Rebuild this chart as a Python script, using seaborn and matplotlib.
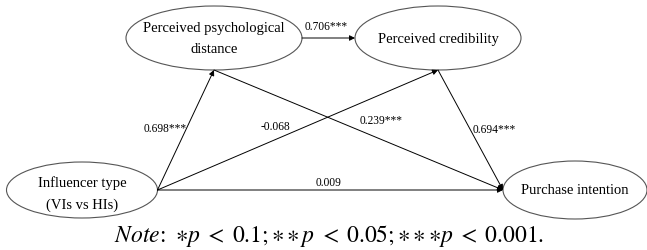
import matplotlib.pyplot as plt
import seaborn as sns
from matplotlib.patches import Ellipse

# path model data
nodes = ["Perceived psychological\ndistance", "Perceived credibility",
         "Influencer type\n(VIs vs HIs)", "Purchase intention"]
edge_src = [2, 2, 2, 0, 1, 0]
edge_dst = [0, 1, 3, 3, 3, 1]
coefs = ["0.698***", "-0.068", "0.009", "0.239***", "0.694***", "0.706***"]
note = (r"$\mathit{Note\!:}\ {\ast}p\;<\;0.1;{\ast}\,{\ast}\,p\;<\;0.05;"
        r"{\ast}\,{\ast}\,{\ast}p\;<\;0.001.$")

# layout (pixel coords, y down)
centers = [(214, 38), (438, 38), (82, 190), (575, 190)]
sizes = [(176, 64), (166, 64), (151, 56), (144, 58)]
src_anchor = ["right", "right", "right", "bottom", "bottom", "right"]
dst_anchor = ["bottom", "bottom", "left", "left", "left", "left"]
label_pos = [(165, 129), (275, 127), (329, 183), (381, 121), (494, 130), (326, 27)]
text_dy = [1, 1, 4, 1]


def anchor(i, side):
    cx, cy = centers[i]
    w, h = sizes[i]
    if side == "right":
        return (cx + w / 2, cy)
    if side == "left":
        return (cx - w / 2, cy)
    return (cx, cy + h / 2)


sns.set_theme(style="white")
plt.rcParams["font.family"] = ["Liberation Serif", "DejaVu Serif"]
plt.rcParams["mathtext.fontset"] = "stix"

fig = plt.figure(figsize=(6.47, 2.5), dpi=100)
ax = fig.add_axes([0, 0, 1, 1])
ax.set_xlim(0, 647)
ax.set_ylim(250, 0)
ax.axis("off")

for i, name in enumerate(nodes):
    (cx, cy), (w, h) = centers[i], sizes[i]
    ax.add_patch(Ellipse((cx, cy), w, h, facecolor="white", edgecolor="#555555", lw=0.8))
    ax.text(cx, cy + text_dy[i], name, ha="center", va="center", fontsize=10.5,
            linespacing=1.75, color="black")

for s, d, sa, da, lab, (lx, ly) in zip(edge_src, edge_dst, src_anchor, dst_anchor,
                                        coefs, label_pos):
    ax.annotate("", xy=anchor(d, da), xytext=anchor(s, sa),
                arrowprops=dict(arrowstyle="-|>", color="black", lw=0.7,
                                mutation_scale=8, shrinkA=0, shrinkB=0))
    ax.text(lx, ly, lab, ha="center", va="center", fontsize=8.3, color="black")

ax.text(329, 236, note, ha="center", va="center", fontsize=17, color="black")

fig.savefig("out.png", dpi=100)
